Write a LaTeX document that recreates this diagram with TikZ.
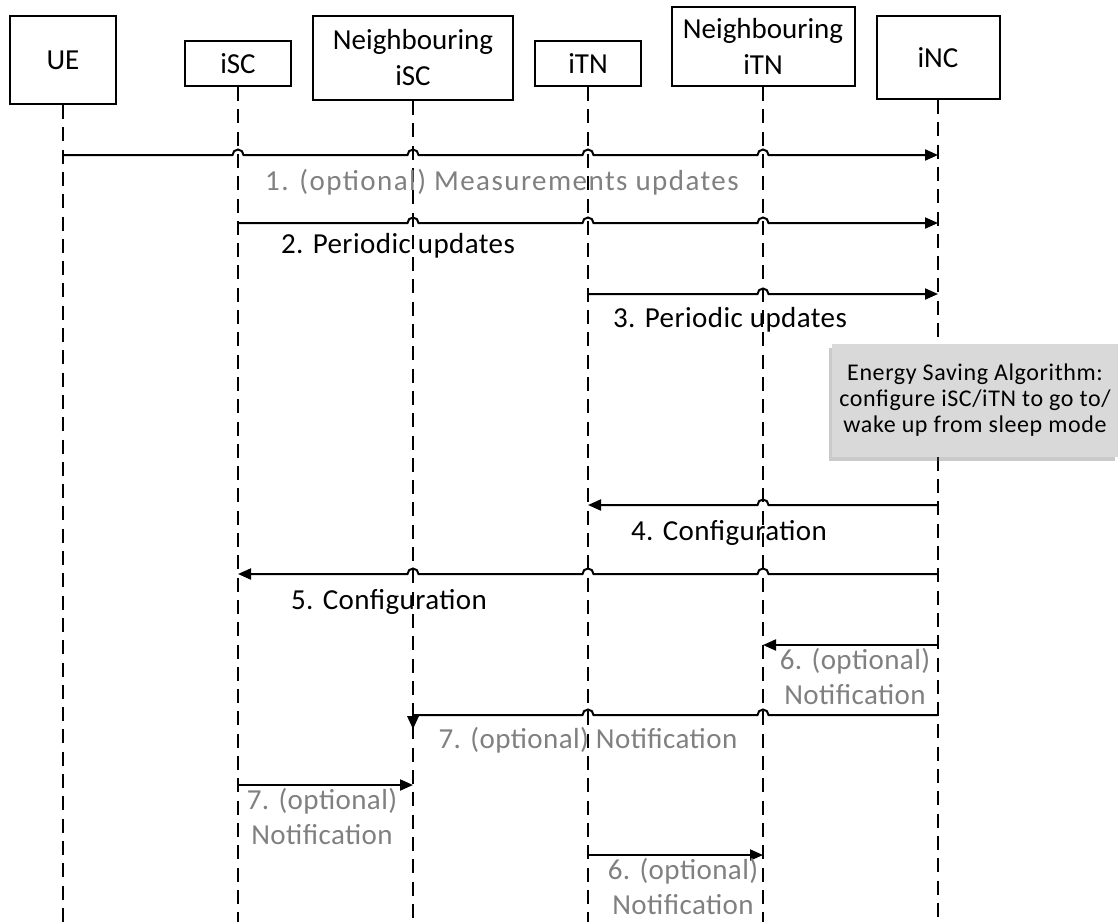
\documentclass[tikz,border=0pt]{standalone}
\usepackage{fontspec}
\setmainfont{Carlito}
\newfontfamily\lblfamily[LetterSpace=1.5]{Carlito}
\newfontfamily\notefamily[LetterSpace=2.5]{Carlito}
\usetikzlibrary{arrows.meta,shadows}
\definecolor{labelgray}{HTML}{808080}
\definecolor{notefill}{HTML}{D9D9D9}

\begin{document}
\begin{tikzpicture}[x=1pt,y=-1pt,
  actor/.style={draw, line width=2pt, inner sep=0pt, align=center,
    font=\fontsize{29}{36}\selectfont},
  life/.style={line width=2.2pt, dash pattern=on 14pt off 8.3pt},
  msg/.style={line width=2pt},
  tip/.style={-{Triangle[length=13pt,width=11pt]}},
  lbl/.style={font=\lblfamily\fontsize{29}{35}\selectfont, inner sep=0pt},
  opt/.style={lbl, text=labelgray},
  % line jumps over a lifeline, for messages going right or left
  hopR/.style n args={2}{insert path={-- ([xshift=-5.5pt]#1 |- 0,#2)
      arc[start angle=180, end angle=0, radius=5.5pt]}},
  hopL/.style n args={2}{insert path={-- ([xshift=5.5pt]#1 |- 0,#2)
      arc[start angle=0, end angle=180, radius=5.5pt]}},
]
\useasboundingbox (0,0) rectangle (1118,922);

% participants
\node[actor, minimum width=106pt, minimum height=88pt] (ue)   at (63,60)    {UE};
\node[actor, minimum width=106pt, minimum height=45pt] (isc)  at (238,63.5) {iSC};
\node[actor, minimum width=200pt, minimum height=84pt] (nisc) at (413,58)   {Neighbouring\\iSC};
\node[actor, minimum width=106pt, minimum height=45pt] (itn)  at (588,63.5) {iTN};
\node[actor, minimum width=183pt, minimum height=79pt] (nitn) at (763,46.5) {Neighbouring\\iTN};
\node[actor, minimum width=123pt, minimum height=83pt] (inc)  at (938,57.5) {iNC};

% lifelines
\foreach \p in {ue,isc,nisc,itn,nitn,inc}
  \draw[life] (\p.south) -- (\p.south |- 0,922);

% 1. measurements
\draw[msg,tip] (ue |- 0,155) [hopR={isc}{155}] [hopR={nisc}{155}]
  [hopR={itn}{155}] [hopR={nitn}{155}] -- (inc |- 0,155);
\node[opt, anchor=base, font=\lblfamily\addfontfeature{LetterSpace=5}\fontsize{29}{35}\selectfont]
  (l1) at (502,190) {1. (optional) Measurements updates};

% 2. periodic updates from iSC
\draw[msg,tip] (isc |- 0,223) [hopR={nisc}{223}] [hopR={itn}{223}]
  [hopR={nitn}{223}] -- (inc |- 0,223);
\node[lbl, anchor=base] (l2) at (398,253) {2. Periodic updates};

% 3. periodic updates from iTN
\draw[msg,tip] (itn |- 0,294) [hopR={nitn}{294}] -- (inc |- 0,294);
\node[lbl, anchor=base] (l3) at (730,327) {3. Periodic updates};

% energy saving decision
\node[fill=notefill, inner sep=0pt, align=center,
  font=\notefamily\fontsize{24}{26}\selectfont,
  minimum width=286pt, minimum height=113pt,
  drop shadow={shadow xshift=-3pt, shadow yshift=-4pt, opacity=0.35, fill=black!60}]
  (esa) at (975,400.5)
  {Energy Saving Algorithm:\\configure iSC/iTN to go to/\\wake up from sleep mode};

% 4. configuration of iTN
\draw[msg,tip] (inc |- 0,505) [hopL={nitn}{505}] -- (itn |- 0,505);
\node[lbl, anchor=base] (l4) at (729,540) {4. Configuration};

% 5. configuration of iSC
\draw[msg,tip] (inc |- 0,574) [hopL={nitn}{574}] [hopL={itn}{574}]
  [hopL={nisc}{574}] -- (isc |- 0,574);
\node[lbl, anchor=base] (l5) at (389,609) {5. Configuration};

% 6. notification to neighbouring iTN
\draw[msg,tip] (inc |- 0,645) -- (nitn |- 0,645);
\node[opt, align=center, anchor=south] (l6) at (855,705) {6. (optional)\\Notification};

% 7. notification to neighbouring iSC
\draw[msg] (inc |- 0,715) [hopL={nitn}{715}] [hopL={itn}{715}] -- (nisc |- 0,715);
\fill ([xshift=-6pt]nisc |- 0,716) -- ([xshift=6pt]nisc |- 0,716)
  -- (nisc |- 0,729) -- cycle;
\node[opt, anchor=base] (l7) at (588,748) {7. (optional) Notification};

% 7. iSC notifies its neighbour
\draw[msg,tip] (isc |- 0,785) -- (nisc |- 0,785);
\node[opt, align=center, anchor=south] (l7b) at (322,845) {7. (optional)\\Notification};

% 6. iTN notifies its neighbour
\draw[msg,tip] (itn |- 0,855) -- (nitn |- 0,855);
\node[opt, align=center, anchor=south] (l6b) at (683,915) {6. (optional)\\Notification};
\end{tikzpicture}
\end{document}
